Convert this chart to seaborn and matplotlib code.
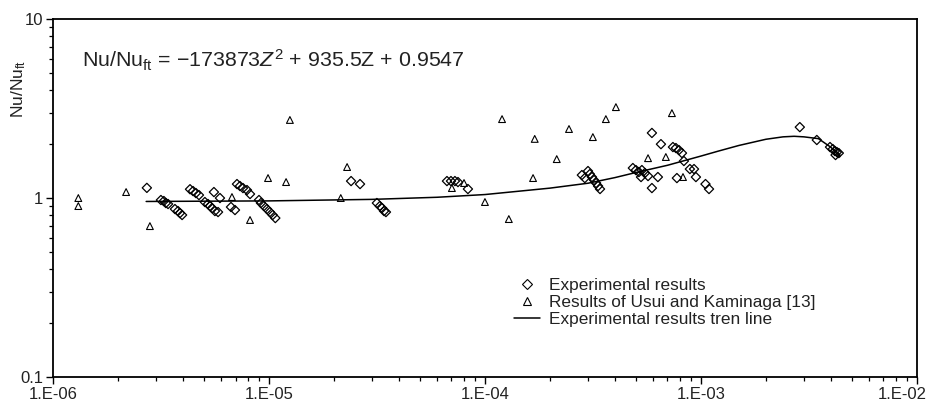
import numpy as np
import pandas as pd
import matplotlib
matplotlib.use("Agg")
import matplotlib.pyplot as plt
from matplotlib.lines import Line2D
from matplotlib.ticker import FixedLocator, LogLocator, NullFormatter
from matplotlib.transforms import ScaledTranslation
import seaborn as sns

# ---------------- data ----------------
exp_z = [2.72e-6, 3.16e-6, 3.26e-6, 3.33e-6, 3.41e-6, 3.67e-6, 3.79e-6, 3.87e-6, 3.96e-6,
         4.31e-6, 4.45e-6, 4.59e-6, 4.74e-6, 5.05e-6, 5.22e-6, 5.33e-6, 5.45e-6, 5.62e-6,
         5.81e-6, 5.56e-6, 5.93e-6, 6.67e-6, 6.96e-6, 7.11e-6, 7.34e-6, 7.58e-6, 7.91e-6,
         8.17e-6, 8.99e-6, 9.18e-6, 9.48e-6, 9.79e-6, 1.01e-5, 1.04e-5, 1.07e-5, 2.40e-5,
         2.64e-5, 3.16e-5, 3.26e-5, 3.34e-5, 3.41e-5, 3.48e-5, 6.67e-5, 6.96e-5, 7.26e-5,
         7.50e-5, 8.34e-5, 2.81e-4, 2.90e-4, 3.00e-4, 3.06e-4, 3.13e-4, 3.20e-4, 3.27e-4,
         3.34e-4, 3.41e-4, 4.84e-4, 5.00e-4, 5.16e-4, 5.33e-4, 5.50e-4, 5.69e-4, 5.28e-4,
         5.93e-4, 6.53e-4, 5.93e-4, 6.32e-4, 7.42e-4, 7.66e-4, 7.91e-4, 8.17e-4, 8.34e-4,
         8.89e-4, 9.29e-4, 7.74e-4, 9.48e-4, 1.05e-3, 1.09e-3, 2.87e-3, 3.44e-3, 3.96e-3,
         4.08e-3, 4.17e-3, 4.26e-3, 4.35e-3, 4.20e-3]
exp_nu = [1.14, 0.975, 0.962, 0.938, 0.926, 0.868, 0.846, 0.824, 0.804,
          1.12, 1.094, 1.066, 1.039, 0.95, 0.926, 0.902, 0.879, 0.846,
          0.835, 1.08, 1.0, 0.891, 0.857, 1.197, 1.167, 1.137, 1.108,
          1.053, 0.975, 0.938, 0.902, 0.868, 0.835, 0.804, 0.773, 1.244,
          1.197, 0.938, 0.902, 0.879, 0.846, 0.835, 1.244, 1.244, 1.244,
          1.228, 1.123, 1.344, 1.293, 1.415, 1.361, 1.31, 1.26, 1.213,
          1.167, 1.123, 1.471, 1.433, 1.397, 1.433, 1.379, 1.327, 1.31,
          2.31, 2.0, 1.137, 1.31, 1.927, 1.902, 1.854, 1.783, 1.61,
          1.452, 1.452, 1.293, 1.31, 1.197, 1.123, 2.49, 2.11, 1.927,
          1.878, 1.831, 1.807, 1.783, 1.739]

usui_z = [1.31e-6, 1.31e-6, 2.18e-6, 2.81e-6, 6.74e-6, 8.17e-6, 9.9e-6, 1.2e-5, 1.25e-5,
          2.15e-5, 2.3e-5, 7.03e-5, 8.0e-5, 1.0e-4, 1.29e-4, 1.2e-4, 1.67e-4, 1.70e-4,
          2.15e-4, 2.45e-4, 3.16e-4, 3.63e-4, 4.04e-4, 7.34e-4, 5.69e-4, 6.88e-4, 8.26e-4]
usui_nu = [1.0, 0.902, 1.08, 0.697, 1.013, 0.754, 1.293, 1.228, 2.73,
           1.0, 1.49, 1.137, 1.213, 0.95, 0.763, 2.76, 1.293, 2.14,
           1.65, 2.43, 2.19, 2.76, 3.22, 2.98, 1.67, 1.695, 1.31]

trend_z = [2.7e-6, 1e-5, 3e-5, 6e-5, 1e-4, 2e-4, 3e-4, 4e-4, 5e-4, 7e-4, 1e-3, 1.2e-3,
           1.5e-3, 2e-3, 2.4e-3, 2.7e-3, 3e-3, 3.5e-3, 4e-3, 4.4e-3]
trend_nu = [0.957, 0.964, 0.983, 1.010, 1.046, 1.136, 1.210, 1.301, 1.389, 1.524, 1.716, 1.827,
            1.967, 2.130, 2.197, 2.213, 2.197, 2.147, 1.920, 1.705]

x_ticks = [1e-6, 1e-5, 1e-4, 1e-3, 1e-2]
x_labels = ["1.E-06", "1.E-05", "1.E-04", "1.E-03", "1.E-02"]
y_ticks = [0.1, 1, 10]
y_labels = ["0.1", "1", "10"]

legend_labels = ["Experimental results", "Results of Usui and Kaminaga [13]",
                 "Experimental results tren line"]

# ---------------- style ----------------
sns.set_style("ticks")
plt.rcParams["font.family"] = ["Liberation Sans", "DejaVu Sans"]
plt.rcParams["mathtext.fontset"] = "custom"
plt.rcParams["mathtext.rm"] = "Liberation Sans"
plt.rcParams["mathtext.it"] = "Liberation Sans:italic"
plt.rcParams["mathtext.bf"] = "Liberation Sans:bold"

TXT = "#222222"

fig = plt.figure(figsize=(9.38, 4.05), dpi=100)
ax = fig.add_axes([0.0565, 0.069, 0.921, 0.884])

exp_df = pd.DataFrame({"Z": exp_z, "Nu": exp_nu})
usui_df = pd.DataFrame({"Z": usui_z, "Nu": usui_nu})
trend_df = pd.DataFrame({"Z": trend_z, "Nu": trend_nu})

ax.set_xscale("log")
ax.set_yscale("log")

sns.lineplot(data=trend_df, x="Z", y="Nu", ax=ax, color="black", lw=1.1,
             estimator=None, sort=True, legend=False)
sns.scatterplot(data=exp_df, x="Z", y="Nu", ax=ax, marker="D", s=22,
                facecolor="none", edgecolor="black", linewidth=0.9, legend=False)
sns.scatterplot(data=usui_df, x="Z", y="Nu", ax=ax, marker="^", s=24,
                facecolor="none", edgecolor="black", linewidth=0.8, legend=False)

ax.set_xlim(1e-6, 1e-2)
ax.set_ylim(0.1, 10)

ax.xaxis.set_major_locator(FixedLocator(x_ticks))
ax.set_xticklabels(x_labels)
ax.yaxis.set_major_locator(FixedLocator(y_ticks))
ax.set_yticklabels(y_labels)
ax.xaxis.set_minor_locator(LogLocator(base=10, subs=np.arange(2, 10), numticks=20))
ax.yaxis.set_minor_locator(LogLocator(base=10, subs=np.arange(2, 10), numticks=20))
ax.xaxis.set_minor_formatter(NullFormatter())
ax.yaxis.set_minor_formatter(NullFormatter())

ax.tick_params(axis="both", which="major", direction="out", length=5, width=1,
               labelsize=12, color="black", labelcolor=TXT, pad=2)
ax.tick_params(axis="both", which="minor", direction="out", length=3, width=0.9,
               color="black")

# shift the last x tick label left so it stays inside the figure (as in the reference)
last = ax.get_xticklabels()[-1]
last.set_transform(last.get_transform() + ScaledTranslation(-0.15, 0, fig.dpi_scale_trans))

for sp in ax.spines.values():
    sp.set_visible(True)
    sp.set_color("black")
    sp.set_linewidth(1.3)

ax.set_xlabel("")
ax.set_ylabel(r"Nu/Nu$_{\mathrm{ft}}$", fontsize=12.5, color=TXT)
ax.yaxis.set_label_coords(-0.029, 0.804)

ax.text(0.034, 0.866,
        r"Nu/Nu$_{\mathrm{ft}}$ = $-$173873$Z^{2}$ + 935.5Z + 0.9547",
        transform=ax.transAxes, fontsize=15.4, color=TXT, va="baseline", ha="left")

handles = [
    Line2D([], [], marker="D", markersize=5.5, markerfacecolor="none",
           markeredgecolor="black", markeredgewidth=0.8, linestyle="none"),
    Line2D([], [], marker="^", markersize=6, markerfacecolor="none",
           markeredgecolor="black", markeredgewidth=0.8, linestyle="none"),
    Line2D([], [], color="black", lw=1.1),
]
ax.legend(handles, legend_labels, loc="upper left", bbox_to_anchor=(0.534, 0.278),
          frameon=False, fontsize=12.4, handlelength=1.5, handletextpad=0.5,
          labelspacing=0.12, borderpad=0, borderaxespad=0, labelcolor=TXT)

fig.savefig("out.png", dpi=100)
